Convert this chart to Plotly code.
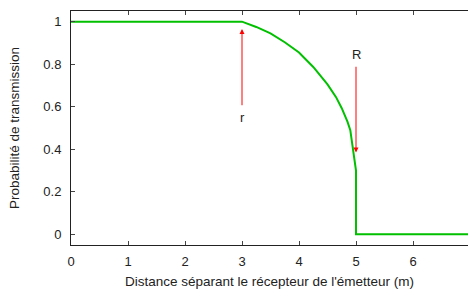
import plotly.graph_objects as go

distance = [0, 3, 3.25, 3.5, 3.75, 4.0, 4.25, 4.5, 4.65, 4.75, 4.85, 4.9, 5.0, 5.0, 7]
probability = [1, 1, 0.975, 0.945, 0.903, 0.855, 0.787, 0.705, 0.645, 0.593, 0.53, 0.49, 0.30, 0, 0]

x_ticks = [0, 1, 2, 3, 4, 5, 6]
y_ticks = [0, 0.2, 0.4, 0.6, 0.8, 1]
y_tick_labels = ["0", "0.2", "0.4", "0.6", "0.8", "1"]

# arrows: (label, x, tail y, head y, label y)
arrows = [("r", 3, 0.60, 0.965, 0.55), ("R", 5, 0.795, 0.385, 0.845)]

font = "Liberation Sans, Arial, sans-serif"

fig = go.Figure()
fig.add_trace(go.Scatter(x=distance, y=probability, mode="lines",
                         line=dict(color="#00c000", width=2), hoverinfo="skip"))

for label, ax_, y0, y1, ly in arrows:
    fig.add_annotation(x=ax_, y=y1, ax=ax_, ay=y0, xref="x", yref="y", axref="x", ayref="y",
                       showarrow=True, arrowhead=2, arrowsize=1, arrowwidth=1,
                       arrowcolor="#ff0000", text="")
    fig.add_annotation(x=ax_, y=ly, text=label, showarrow=False,
                       font=dict(family=font, size=13, color="#222"))

fig.update_layout(
    width=468, height=290,
    margin=dict(l=71, r=0, t=11, b=45),
    paper_bgcolor="white", plot_bgcolor="white",
    showlegend=False,
    font=dict(family=font, size=13, color="#222"),
    xaxis=dict(range=[0, 6.965], tickvals=x_ticks, ticks="inside", ticklen=4,
               tickcolor="#444", showline=True, linecolor="#222", linewidth=1,
               mirror="ticks", showgrid=False, zeroline=False, automargin=False,
               ticklabelstandoff=4,
               title=dict(text="Distance séparant le récepteur de l'émetteur (m)",
                          font=dict(size=13.5), standoff=8)),
    yaxis=dict(range=[-0.05, 1.05], tickvals=y_ticks, ticktext=y_tick_labels,
               ticks="inside", ticklen=4, tickcolor="#444", showline=True,
               linecolor="#222", linewidth=1, showgrid=False, zeroline=False,
               automargin=False, ticklabelstandoff=6,
               title=dict(text="Probabilité de transmission", font=dict(size=13.5), standoff=20)),
)

fig.write_html("out.html", config={"displayModeBar": False},
               post_script="document.body.style.margin='0';document.body.style.overflow='hidden';")
